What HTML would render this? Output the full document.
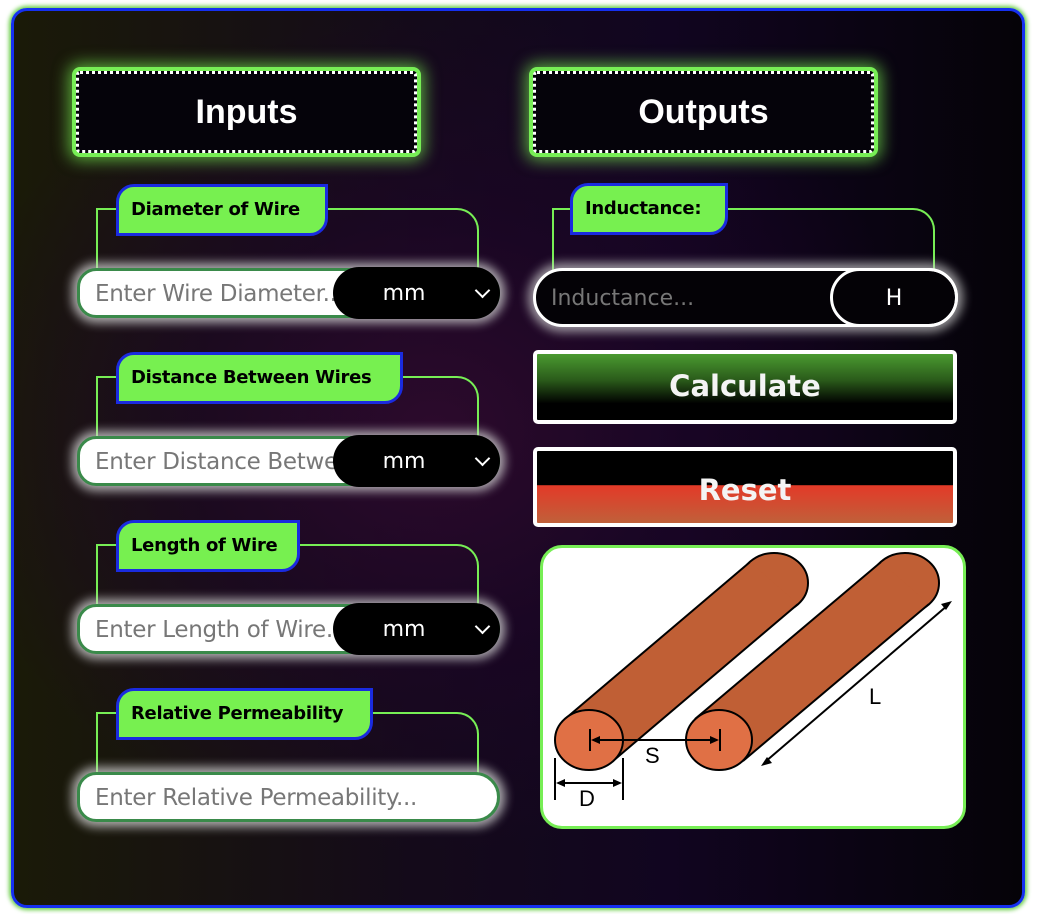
<!DOCTYPE html>
<html><head><meta charset="utf-8"><style>
*{box-sizing:border-box;margin:0;padding:0}
body{width:1040px;height:914px;background:#fff;position:relative;overflow:hidden;font-family:"Liberation Sans",sans-serif}
.wrap{position:absolute;left:11px;top:8px;width:1014px;height:900px;border:3px solid #1530f0;border-radius:16px;box-shadow:0 0 4px 2px #6c4;
background:radial-gradient(ellipse 500px 420px at 420px 420px,#2c0a2c 0%,rgba(30,5,40,.6) 50%,rgba(0,0,0,0) 100%),linear-gradient(90deg,#1a1a08 0%,#140a1a 40%,#110520 65%,#050308 100%);overflow:hidden}
.in{position:absolute;left:-3px;top:-3px;width:1014px;height:900px}
.hdr{position:absolute;width:341px;height:82px;background:#05030a;border:3px dotted #fff;border-radius:4px;box-shadow:0 0 0 4px #77ee55,0 0 16px 7px rgba(120,240,80,.7);color:#fff;font-weight:bold;font-size:34px;text-align:center;line-height:76px}
.lab{position:absolute;height:52px;background:#77f050;border:3px solid #1a2be0;border-radius:18px 0 18px 0;font-weight:bold;font-size:18px;line-height:46px;padding-left:12px;color:#000;font-family:"DejaVu Sans","Liberation Sans",sans-serif;z-index:2;white-space:nowrap;letter-spacing:-0.3px}
.line{position:absolute;border-top:2px solid #77ee55;border-left:2px solid #77ee55;border-right:2px solid #77ee55;border-radius:0 22px 0 0;height:62px}
.inp{position:absolute;left:66px;width:423px;height:50px;background:#fff;border:3px solid #3a8a4a;border-radius:20px 26px 26px 20px;box-shadow:0 0 10px 5px rgba(210,210,210,.8);font-size:23px;color:#777;line-height:46px;padding-left:15px;white-space:nowrap;overflow:hidden;font-family:"DejaVu Sans","Liberation Sans",sans-serif;letter-spacing:-0.3px}
.sel{position:absolute;left:322px;width:167px;height:52px;background:#000;border-radius:26px;color:#fff;font-size:22px;line-height:54px;text-align:center;z-index:1;padding-right:25px;font-family:"DejaVu Sans",sans-serif}
.sel:after{content:"";position:absolute;right:12px;top:18px;width:9px;height:9px;border-right:2px solid #fff;border-bottom:2px solid #fff;transform:rotate(45deg)}
.btn{position:absolute;left:522px;width:424px;border:4px solid #fff;border-radius:5px;color:#f4f4f4;font-weight:bold;font-size:29px;text-align:center;font-family:"DejaVu Sans",sans-serif}
</style></head><body>
<div class="wrap"><div class="in">
<div class="hdr" style="left:65px;top:63px">Inputs</div>
<div class="hdr" style="left:522px;top:63px">Outputs</div>

<div class="line" style="left:85px;top:200px;width:383px"></div>
<div class="lab" style="left:105px;top:176px;width:212px">Diameter of Wire</div>
<div class="inp" style="top:260px">Enter Wire Diameter...</div>
<div class="sel" style="top:259px">mm</div>

<div class="line" style="left:85px;top:368px;width:383px"></div>
<div class="lab" style="left:105px;top:344px;width:287px">Distance Between Wires</div>
<div class="inp" style="top:428px">Enter Distance Between Wires...</div>
<div class="sel" style="top:427px">mm</div>

<div class="line" style="left:85px;top:536px;width:383px"></div>
<div class="lab" style="left:105px;top:512px;width:184px">Length of Wire</div>
<div class="inp" style="top:596px">Enter Length of Wire...</div>
<div class="sel" style="top:595px">mm</div>

<div class="line" style="left:85px;top:704px;width:383px"></div>
<div class="lab" style="left:105px;top:680px;width:257px">Relative Permeability</div>
<div class="inp" style="top:764px">Enter Relative Permeability...</div>

<div class="line" style="left:541px;top:200px;width:383px"></div>
<div class="lab" style="left:559px;top:175px;width:158px">Inductance:</div>
<div style="position:absolute;left:522px;top:260px;width:425px;height:59px;background:#040206;border:3px solid #fff;border-radius:30px;box-shadow:0 0 10px 5px rgba(210,210,210,.7);color:#777;font-size:22px;line-height:55px;padding-left:15px;font-family:'DejaVu Sans',sans-serif">Inductance...</div>
<div style="position:absolute;left:819px;top:260px;width:128px;height:59px;border:3px solid #fff;border-radius:30px;color:#fff;font-size:22px;line-height:55px;text-align:center;font-family:'DejaVu Sans',sans-serif">H</div>

<div class="btn" style="top:342px;height:74px;line-height:64px;background:linear-gradient(180deg,#4a9a30 0%,#2a5a1a 40%,#000 75%)">Calculate</div>
<div class="btn" style="top:439px;height:80px;line-height:78px;background:linear-gradient(180deg,#000 0%,#000 47%,#e33a28 48%,#c0603a 100%)">Reset</div>

<div style="position:absolute;left:529px;top:537px;width:426px;height:284px;background:#fff;border:3px solid #77ee55;border-radius:22px"></div>
</div></div>
<svg style="position:absolute;left:0;top:0" width="1040" height="914">
<g stroke="#000" stroke-width="2">
<ellipse cx="774" cy="583" rx="34" ry="30" fill="#c05f35"/>
<polygon points="565,719 750,562 798,604 613,761" fill="#c05f35" stroke="none"/>
<line x1="565" y1="719" x2="750" y2="562"/><line x1="613" y1="761" x2="798" y2="604"/>
<ellipse cx="589" cy="740" rx="34" ry="30" fill="#e07045"/>
<ellipse cx="905" cy="583" rx="34" ry="30" fill="#c05f35"/>
<polygon points="695,719 881,562 929,604 743,761" fill="#c05f35" stroke="none"/>
<line x1="695" y1="719" x2="881" y2="562"/><line x1="743" y1="761" x2="929" y2="604"/>
<ellipse cx="719" cy="740" rx="33" ry="30" fill="#e07045"/>
<line x1="590" y1="729" x2="590" y2="751"/><line x1="720" y1="729" x2="720" y2="751"/>
<line x1="593" y1="740" x2="717" y2="740"/>
<line x1="555" y1="758" x2="555" y2="800"/><line x1="623" y1="758" x2="623" y2="800"/>
<line x1="558" y1="783" x2="620" y2="783"/>
<line x1="765" y1="762" x2="948" y2="605"/>
</g>
<g fill="#000">
<polygon points="591,740 600,736 600,744"/><polygon points="719,740 710,736 710,744"/>
<polygon points="556,783 565,779 565,787"/><polygon points="622,783 613,779 613,787"/>
<polygon points="761,766 767,757 772,763"/><polygon points="952,601 946,610 941,604"/>
</g>
<g font-family="Liberation Sans,sans-serif" font-size="22">
<text x="645" y="763">S</text><text x="579" y="806">D</text><text x="869" y="704">L</text>
</g>
</svg>
</body></html>
